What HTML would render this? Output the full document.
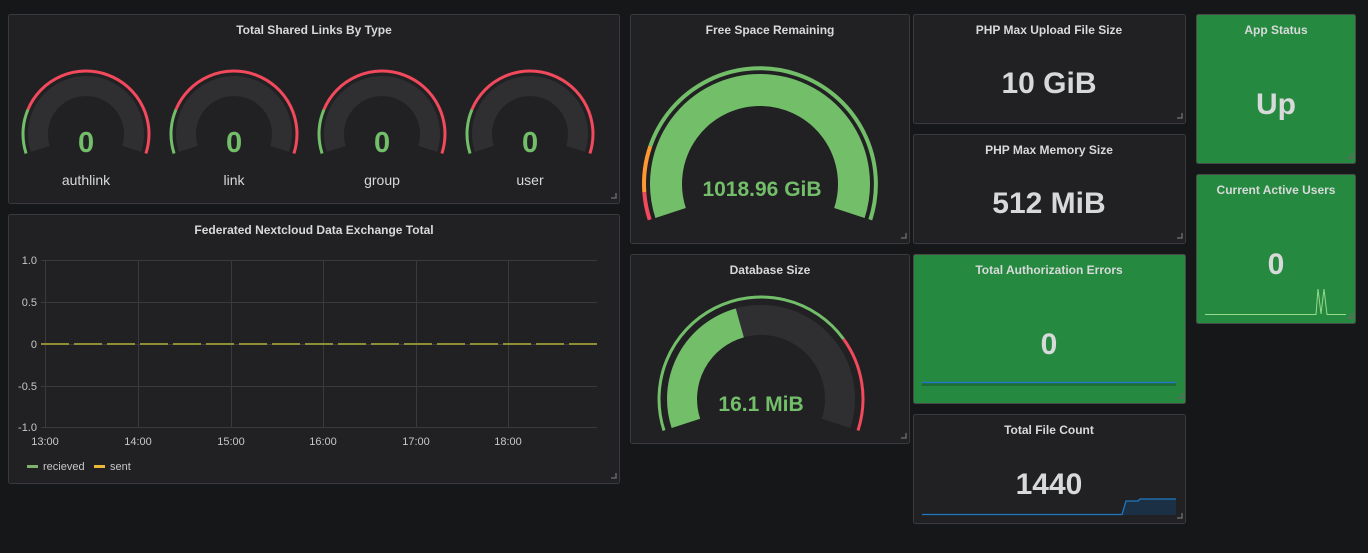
<!DOCTYPE html>
<html><head><meta charset="utf-8"><style>
html,body{margin:0;padding:0;background:#161719;}
svg{display:block;font-family:"Liberation Sans",sans-serif;}
.t{fill:#d8d9da;font-size:12px;font-weight:bold;text-anchor:middle;}
.v{fill:#d8d9da;font-size:30px;font-weight:bold;text-anchor:middle;}
.g{fill:#73bf69;font-weight:bold;text-anchor:middle;}
.ax{fill:#c7c7c7;font-size:11px;}
</style></head><body>
<svg width="1368" height="553" viewBox="0 0 1368 553">
<rect width="1368" height="553" fill="#161719"/>
<g stroke="#3a3a3e" stroke-width="1">
<rect x="8.5" y="14.5" width="611" height="189" rx="2" fill="#212124"/>
<rect x="8.5" y="214.5" width="611" height="269" rx="2" fill="#212124"/>
<rect x="630.5" y="14.5" width="279" height="229" rx="2" fill="#212124"/>
<rect x="630.5" y="254.5" width="279" height="189" rx="2" fill="#212124"/>
<rect x="913.5" y="14.5" width="272" height="109" rx="2" fill="#212124"/>
<rect x="913.5" y="134.5" width="272" height="109" rx="2" fill="#212124"/>
<rect x="913.5" y="254.5" width="272" height="149" rx="2" fill="#258a3f" stroke="#4a4a4a"/>
<rect x="913.5" y="414.5" width="272" height="109" rx="2" fill="#212124"/>
<rect x="1196.5" y="14.5" width="159" height="149" rx="2" fill="#258a3f" stroke="#4a4a4a"/>
<rect x="1196.5" y="174.5" width="159" height="149" rx="2" fill="#258a3f" stroke="#4a4a4a"/>
</g>
<g stroke="#666" stroke-width="1.5" fill="none">
<path d="M611 198h5v-5M611 478h5v-5M901 238h5v-5M901 438h5v-5M1177 118h5v-5M1177 238h5v-5M1177 398h5v-5M1177 518h5v-5M1347 158h5v-5M1347 318h5v-5"/>
</g>
<text class="t" x="314" y="34">Total Shared Links By Type</text>
<text class="t" x="314" y="234">Federated Nextcloud Data Exchange Total</text>
<text class="t" x="770" y="34">Free Space Remaining</text>
<text class="t" x="770" y="274">Database Size</text>
<text class="t" x="1049" y="34">PHP Max Upload File Size</text>
<text class="t" x="1049" y="154">PHP Max Memory Size</text>
<text class="t" x="1049" y="274">Total Authorization Errors</text>
<text class="t" x="1049" y="434">Total File Count</text>
<text class="t" x="1276" y="34">App Status</text>
<text class="t" x="1276" y="194">Current Active Users</text>

<defs>
<g id="sg">
<path d="M-45.65 14.83 A48 48 0 1 1 45.65 14.83" fill="none" stroke="#2f2f32" stroke-width="20"/>
<path d="M-59.9 19.5 A63 63 0 0 1 -58 -24.6" fill="none" stroke="#73bf69" stroke-width="3"/>
<path d="M-58 -24.6 A63 63 0 0 1 59.9 19.5" fill="none" stroke="#f2495c" stroke-width="3"/>
<text class="g" x="0" y="18" font-size="29">0</text>
</g>
</defs>
<use href="#sg" x="86" y="134"/>
<use href="#sg" x="234" y="134"/>
<use href="#sg" x="382" y="134"/>
<use href="#sg" x="530" y="134"/>
<g fill="#d8d9da" font-size="14" text-anchor="middle">
<text x="86" y="185">authlink</text><text x="234" y="185">link</text><text x="382" y="185">group</text><text x="530" y="185">user</text>
</g>

<g transform="translate(760,184)">
<path d="M-89.4 29 A94 94 0 1 1 89.4 29" fill="none" stroke="#73bf69" stroke-width="32"/>
<path d="M-110.3 35.8 A116 116 0 0 1 -115.7 8.1" fill="none" stroke="#f2495c" stroke-width="4"/>
<path d="M-115.7 8.1 A116 116 0 0 1 -109.7 -37.8" fill="none" stroke="#ff9830" stroke-width="4"/>
<path d="M-109.7 -37.8 A116 116 0 0 1 110.3 35.8" fill="none" stroke="#73bf69" stroke-width="4"/>
<text class="g" x="2" y="12" font-size="21">1018.96 GiB</text>
</g>
<g transform="translate(761,399)">
<path d="M-75.1 24.4 A79 79 0 1 1 75.1 24.4" fill="none" stroke="#2f2f32" stroke-width="30"/>
<path d="M-75.1 24.4 A79 79 0 0 1 -21.2 -76.1" fill="none" stroke="#73bf69" stroke-width="30"/>
<path d="M-97 31.5 A102 102 0 0 1 82.5 -60" fill="none" stroke="#73bf69" stroke-width="3"/>
<path d="M82.5 -60 A102 102 0 0 1 97 31.5" fill="none" stroke="#f2495c" stroke-width="3"/>
<text class="g" x="0" y="12" font-size="21">16.1 MiB</text>
</g>

<g stroke="#3a3a3d" stroke-width="1">
<path d="M41 260.5H597M41 302.5H597M41 344.5H597M41 386.5H597M41 427.5H597"/>
<path d="M45.5 260V428M138.5 260V428M231.5 260V428M323.5 260V428M416.5 260V428M508.5 260V428"/>
</g>
<line x1="41" y1="344" x2="597" y2="344" stroke="#8f8d36" stroke-width="2" stroke-dasharray="28 5"/>
<g class="ax" text-anchor="end">
<text x="37" y="264">1.0</text><text x="37" y="306">0.5</text><text x="37" y="348">0</text><text x="37" y="390">-0.5</text><text x="37" y="431">-1.0</text>
</g>
<g class="ax" text-anchor="middle">
<text x="45" y="445">13:00</text><text x="138" y="445">14:00</text><text x="231" y="445">15:00</text><text x="323" y="445">16:00</text><text x="416" y="445">17:00</text><text x="508" y="445">18:00</text>
</g>
<rect x="27" y="465" width="11" height="3" fill="#7eb26d"/>
<text class="ax" x="43" y="470">recieved</text>
<rect x="94" y="465" width="11" height="3" fill="#eab839"/>
<text class="ax" x="110" y="470">sent</text>

<text class="v" x="1049" y="93">10 GiB</text>
<text class="v" x="1049" y="213">512 MiB</text>
<rect x="922" y="383" width="254" height="3" fill="#1e6e33"/>
<line x1="922" y1="382.5" x2="1176" y2="382.5" stroke="#1f78c1" stroke-width="1.5"/>
<text class="v" x="1049" y="354">0</text>
<path d="M1122 514 L1126 501 L1138 501 L1140 499 L1176 499 L1176 515 L1122 515Z" fill="#1c3045"/>
<path d="M922 514.5 L1122 514.5 L1126 501 L1138 501 L1140 499 L1176 499" fill="none" stroke="#1f78c1" stroke-width="1.3"/>
<text class="v" x="1049" y="494">1440</text>
<text class="v" x="1276" y="114">Up</text>
<text class="v" x="1276" y="274">0</text>
<path d="M1205 314.5 L1316 314.5 L1318 289 L1321 314 L1324 289 L1327 314.5 L1346 314.5" fill="none" stroke="#96d98d" stroke-width="1"/>
</svg>
</body></html>
